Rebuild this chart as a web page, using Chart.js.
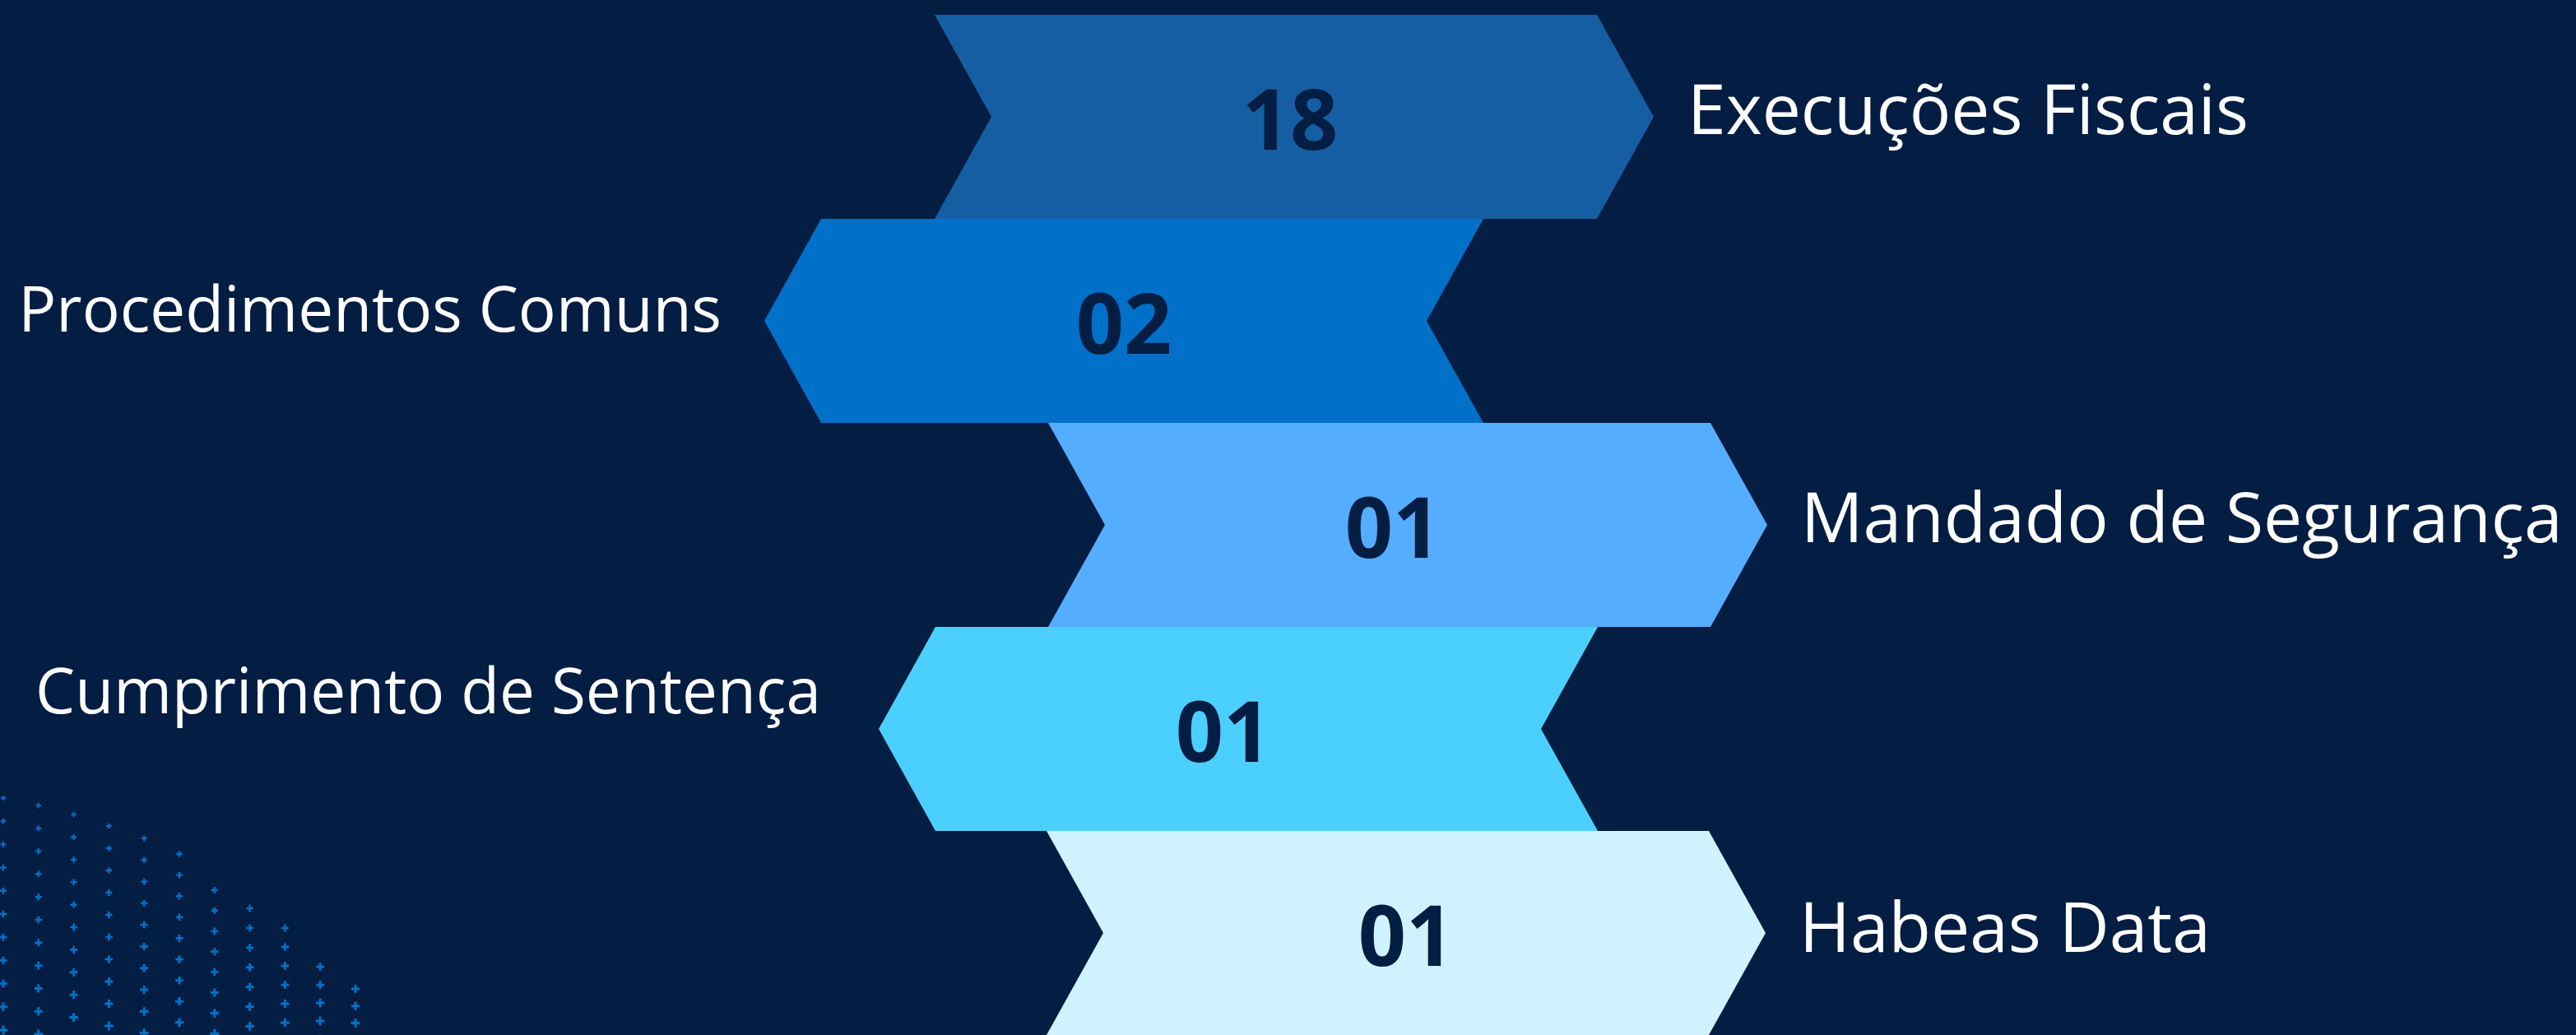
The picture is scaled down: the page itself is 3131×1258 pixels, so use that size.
<!DOCTYPE html>
<html>
<head>
<meta charset="utf-8">
<title>Processos</title>
<script src="https://cdn.jsdelivr.net/npm/chart.js@4.4.1/dist/chart.umd.min.js"></script>
<style>
	html, body { margin: 0; padding: 0; background: #041d42; overflow: hidden; }
	#wrap { width: 3131px; height: 1258px; position: relative; }
</style>
</head>
<body>
<div id="wrap"><canvas id="myChevrons"></canvas></div>
<script>
// data
const categories = ['Execuções Fiscais', 'Procedimentos Comuns', 'Mandado de Segurança', 'Cumprimento de Sentença', 'Habeas Data'];
const quantities = [18, 2, 1, 1, 1];
const colors = ['#155ea3', '#0070c8', '#55adff', '#4bd0fd', '#cef2fe'];

// layout of the infographic (not data)
const layoutStart = [1136, 998, 1274, 1137, 1272];
const layoutWidth = 805;
const pointing = ['right', 'left', 'right', 'left', 'right'];
const labelGap = [41, 52, 41, 70, 41];
const labelDy = [21, 13, 21, -19, 23];
const numberDx = [-5, 0, -18, -18, 0];
const arrowDepth = 69;

// bottom-left ornament columns
const crossColStart = [970, 979, 990, 1004, 1019, 1038, 1082, 1104, 1128, 1175, 1202];
const crossColStep = [28.2, 27.8, 27.4, 27, 26.3, 25.6, 24.9, 23.9, 23, 22, 20.7];

const handleChevrons = {
	drawBackground(chart) {
		const ctx = chart.ctx;
		ctx.save();
		ctx.fillStyle = '#041d42';
		ctx.fillRect(0, 0, chart.width, chart.height);
		ctx.strokeStyle = '#0070c8';
		ctx.lineCap = 'butt';
		crossColStart.forEach((y0, i) => {
			const cx = 4 + 42.8 * i;
			for (let y = y0; y < chart.height + 10; y += crossColStep[i]) {
				const t = (y - 960) / 300;
				const arm = 3 + 2.5 * t;
				ctx.lineWidth = 2 + 1.2 * t;
				ctx.beginPath();
				ctx.moveTo(cx - arm, y);
				ctx.lineTo(cx + arm, y);
				ctx.moveTo(cx, y - arm);
				ctx.lineTo(cx, y + arm);
				ctx.stroke();
			}
		});
		ctx.restore();
	},
	drawShapes(chart, meta) {
		const ctx = chart.ctx;
		ctx.save();
		meta.data.forEach((bar, i) => {
			const p = bar.getProps(['x', 'base', 'y', 'height'], true);
			const left = Math.min(p.x, p.base);
			const right = Math.max(p.x, p.base);
			const top = p.y - p.height / 2;
			const bottom = p.y + p.height / 2;
			const d = arrowDepth;
			ctx.beginPath();
			if (pointing[i] === 'right') {
				ctx.moveTo(left, top);
				ctx.lineTo(right, top);
				ctx.lineTo(right + d, p.y);
				ctx.lineTo(right, bottom);
				ctx.lineTo(left, bottom);
				ctx.lineTo(left + d, p.y);
			} else {
				ctx.moveTo(left, top);
				ctx.lineTo(right, top);
				ctx.lineTo(right - d, p.y);
				ctx.lineTo(right, bottom);
				ctx.lineTo(left, bottom);
				ctx.lineTo(left - d, p.y);
			}
			ctx.closePath();
			ctx.fillStyle = bar.options.backgroundColor;
			ctx.fill();
		});
		ctx.restore();
	},
	drawTexts(chart) {
		const ctx = chart.ctx;
		const meta = chart.getDatasetMeta(0);
		ctx.save();
		meta.data.forEach((bar, i) => {
			const p = bar.getProps(['x', 'base', 'y', 'height'], true);
			const left = Math.min(p.x, p.base);
			const right = Math.max(p.x, p.base);
			const d = arrowDepth;
			const right_ = pointing[i] === 'right';
			// number in the middle of the whole arrow
			const mid = right_ ? (left + right + d) / 2 : (left - d + right) / 2;
			ctx.fillStyle = '#041d42';
			ctx.font = '700 102px "Open Sans"';
			ctx.textAlign = 'center';
			ctx.textBaseline = 'alphabetic';
			ctx.fillText(String(quantities[i]).padStart(2, '0'), mid + numberDx[i], p.y + 40);
			// category name beside the tip
			ctx.fillStyle = '#ffffff';
			if (right_) {
				ctx.font = '400 84px "Open Sans"';
				ctx.textAlign = 'left';
				ctx.fillText(categories[i], right + d + labelGap[i], p.y + labelDy[i]);
			} else {
				ctx.font = '400 76.5px "Open Sans"';
				ctx.textAlign = 'right';
				ctx.fillText(categories[i], left - d - labelGap[i], p.y + labelDy[i]);
			}
		});
		ctx.restore();
	},
	main() {
		const _this = this;
		const ctx = document.getElementById('myChevrons');
		new Chart(ctx, {
			type: 'bar',
			data: {
				labels: categories,
				datasets: [{
					label: 'Quantidade',
					data: quantities.map((q, i) => [layoutStart[i], layoutStart[i] + layoutWidth]),
					backgroundColor: colors,
					borderWidth: 0,
					barPercentage: 1,
					categoryPercentage: 1,
				}]
			},
			options: {
				indexAxis: 'y',
				responsive: true,
				maintainAspectRatio: false,
				devicePixelRatio: 1,
				animation: false,
				layout: {
					padding: { top: 18, bottom: -3, left: 0, right: 0 }
				},
				scales: {
					x: { type: 'linear', min: 0, max: 3131, display: false },
					y: { display: false }
				},
				plugins: {
					legend: { display: false },
					tooltip: { enabled: false }
				}
			},
			plugins: [{
				id: 'chevrons',
				beforeDraw(chart) { _this.drawBackground(chart); },
				beforeDatasetDraw(chart, args) {
					_this.drawShapes(chart, args.meta);
					return false;
				},
				afterDatasetsDraw(chart) { _this.drawTexts(chart); }
			}]
		});
	}
}
handleChevrons.main();
</script>
</body>
</html>
